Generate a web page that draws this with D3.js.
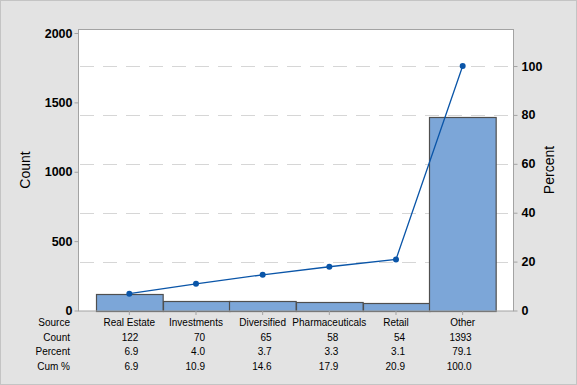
<!DOCTYPE html>
<html>
<head>
<meta charset="utf-8">
<script src="https://cdn.jsdelivr.net/npm/d3@7"></script>
<style>
  body { margin: 0; background: #e3e3e3; }
  svg { display: block; }
  text { font-family: "Liberation Sans", Arial, sans-serif; fill: #000; }
</style>
</head>
<body>
<div id="chart"></div>
<script>
// values
const sources = ['Real Estate', 'Investments', 'Diversified', 'Pharmaceuticals', 'Retail', 'Other'];
const counts = [122, 70, 65, 58, 54, 1393];
const percents = ['6.9', '4.0', '3.7', '3.3', '3.1', '79.1'];
const cumPercents = ['6.9', '10.9', '14.6', '17.9', '20.9', '100.0'];
const countTicks = [0, 500, 1000, 1500, 2000];
const percentTicks = [0, 20, 40, 60, 80, 100];
const rowLabels = ['Source', 'Count', 'Percent', 'Cum %'];

const width = 577, height = 385;
const plot = { left: 79, right: 513, top: 29.5, bottom: 311 };
const total = d3.sum(counts);

let svg = d3.select('#chart').append('svg').attr('width', width).attr('height', height);

svg.append('rect')
  .attr('x', 0.5).attr('y', 0.5)
  .attr('width', width - 1).attr('height', height - 1)
  .style('fill', '#e3e3e3')
  .style('stroke', '#c4c4c4');

// plot area
svg.append('rect')
  .attr('x', plot.left).attr('y', plot.top)
  .attr('width', plot.right - plot.left).attr('height', plot.bottom - plot.top)
  .style('fill', 'white');

const x = d3.scaleBand().domain(sources).range([96, 496]).padding(0);
const yCount = d3.scaleLinear().domain([0, 2000]).range([plot.bottom - 0.5, 33]);
// percent axis lines up with the count axis (100% = total count)
const yPct = d3.scaleLinear().domain([0, 100]).range([yCount(0), yCount(total)]);

// dashed gridlines at the percent ticks
svg.append('g')
  .selectAll('line')
  .data(percentTicks.filter(d => d > 0))
  .join('line')
  .attr('x1', plot.left + 1).attr('x2', plot.right - 1)
  .attr('y1', d => Math.round(yPct(d)) + 0.5)
  .attr('y2', d => Math.round(yPct(d)) + 0.5)
  .style('stroke', '#d6d6d6')
  .style('stroke-dasharray', '14,9');

// bars
svg.append('g')
  .selectAll('rect')
  .data(sources)
  .join('rect')
  .attr('x', d => Math.round(x(d)) + 0.5)
  .attr('y', (d, i) => Math.round(yCount(counts[i])) + 0.5)
  .attr('width', x.bandwidth())
  .attr('height', (d, i) => Math.round(yCount(0)) - Math.round(yCount(counts[i])))
  .style('fill', '#7ca6d8')
  .style('stroke', '#4f4f4f')
  .style('stroke-width', 1.2);

// plot border
svg.append('rect')
  .attr('x', plot.left - 0.5).attr('y', plot.top)
  .attr('width', plot.right - plot.left + 1).attr('height', plot.bottom - plot.top)
  .style('fill', 'none')
  .style('stroke', '#a3a3a3');

// left axis
const leftAxis = svg.append('g')
  .attr('transform', `translate(${plot.left - 0.5},0)`)
  .call(d3.axisLeft(yCount).tickValues(countTicks).tickFormat(d3.format('d')).tickSize(4).tickPadding(2));
// right axis
const rightAxis = svg.append('g')
  .attr('transform', `translate(${plot.right + 0.5},0)`)
  .call(d3.axisRight(yPct).tickValues(percentTicks).tickFormat(d3.format('d')).tickSize(4).tickPadding(4));
// bottom ticks
const bottomAxis = svg.append('g')
  .attr('transform', `translate(0,${plot.bottom})`)
  .call(d3.axisBottom(x).tickSize(4).tickFormat(''));

[leftAxis, rightAxis, bottomAxis].forEach(a => {
  a.select('.domain').remove();
  a.selectAll('line').style('stroke', '#a3a3a3');
  a.selectAll('text')
    .style('font-family', '"Liberation Sans", Arial, sans-serif')
    .style('font-size', '12.5px')
    .style('font-weight', '600')
    .attr('fill', '#000');
});

// axis titles
svg.append('text')
  .attr('transform', `translate(30,170) rotate(-90)`)
  .style('text-anchor', 'middle')
  .style('font-size', '14px')
  .text('Count');

svg.append('text')
  .attr('transform', `translate(554,170) rotate(-90)`)
  .style('text-anchor', 'middle')
  .style('font-size', '14px')
  .text('Percent');

// cumulative percent line
const cx = d => x(d) + x.bandwidth() / 2;
const line = d3.line()
  .x((d, i) => cx(sources[i]))
  .y(d => yPct(+d));

svg.append('path')
  .datum(cumPercents)
  .attr('d', line)
  .style('fill', 'none')
  .style('stroke', '#0a55a8')
  .style('stroke-width', 1.3);

svg.append('g')
  .selectAll('circle')
  .data(cumPercents)
  .join('circle')
  .attr('cx', (d, i) => cx(sources[i]))
  .attr('cy', d => yPct(+d))
  .attr('r', 3)
  .style('fill', '#0a55a8');

// table under the chart
const rowY = [326, 341, 355, 370];
svg.append('g')
  .selectAll('text')
  .data(rowLabels)
  .join('text')
  .attr('x', 70)
  .attr('y', (d, i) => rowY[i])
  .style('text-anchor', 'end')
  .style('font-size', '10px')
  .text(d => d);

svg.append('g')
  .selectAll('text')
  .data(sources)
  .join('text')
  .attr('x', d => cx(d))
  .attr('y', rowY[0])
  .style('text-anchor', 'middle')
  .style('font-size', '10px')
  .text(d => d);

[counts, percents, cumPercents].forEach((row, r) => {
  svg.append('g')
    .selectAll('text')
    .data(row)
    .join('text')
    .attr('x', (d, i) => cx(sources[i]) + 9)
    .attr('y', rowY[r + 1])
    .style('text-anchor', 'end')
    .style('font-size', '10px')
    .text(d => d);
});
</script>
</body>
</html>
